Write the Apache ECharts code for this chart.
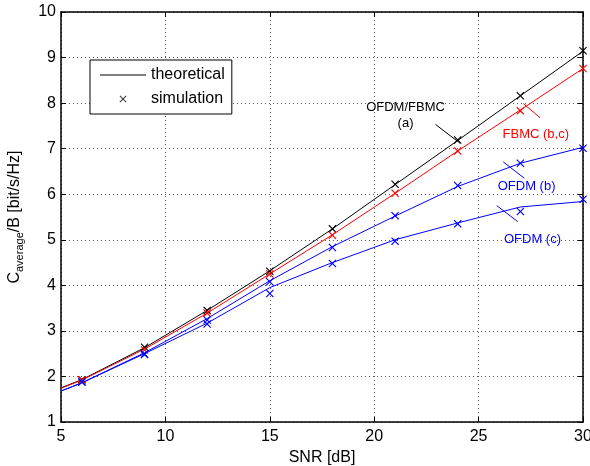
<!DOCTYPE html>
<html>
<head>
<meta charset="utf-8">
<title>Average capacity vs SNR</title>
<script src="https://cdn.jsdelivr.net/npm/echarts@6/dist/echarts.min.js"></script>
<style>
  html, body { margin: 0; padding: 0; background: #fff; }
  #chart { width: 590px; height: 466px; }
</style>
</head>
<body>
<div id="chart"></div>
<script>
  // SNR sample points [dB]
  var snrTheory = [5, 6, 9, 12, 15, 18, 21, 24, 27, 30];
  var snrSim = [6, 9, 12, 15, 18, 21, 24, 27, 30];

  // theoretical curves, C_average/B [bit/s/Hz]
  var theoryOfdmFbmcA = [1.75, 1.93, 2.63, 3.45, 4.32, 5.24, 6.21, 7.18, 8.16, 9.14];
  var theoryFbmcBC    = [1.74, 1.92, 2.60, 3.39, 4.25, 5.11, 6.02, 6.95, 7.85, 8.76];
  var theoryOfdmB     = [1.68, 1.86, 2.52, 3.27, 4.10, 4.85, 5.52, 6.17, 6.68, 7.03];
  var theoryOfdmC     = [1.68, 1.86, 2.50, 3.17, 3.95, 4.50, 5.00, 5.37, 5.72, 5.84];

  // simulation points
  var simOfdmFbmcA = [1.93, 2.64, 3.45, 4.31, 5.24, 6.22, 7.19, 8.16, 9.15];
  var simFbmcBC    = [1.92, 2.58, 3.39, 4.25, 5.10, 6.02, 6.95, 7.83, 8.76];
  var simOfdmB     = [1.88, 2.49, 3.24, 4.08, 4.83, 5.53, 6.19, 6.68, 7.01];
  var simOfdmC     = [1.88, 2.48, 3.15, 3.82, 4.48, 4.97, 5.35, 5.62, 5.89];

  var FONT = "'Liberation Sans', Arial, Helvetica, sans-serif";
  var CROSS = 'path://M0,1L1,0L5,4L9,0L10,1L6,5L10,9L9,10L5,6L1,10L0,9L4,5Z';

  function zip(xs, ys) {
    var out = [];
    for (var i = 0; i < xs.length; i++) out.push([xs[i], ys[i]]);
    return out;
  }

  // curve labels with their little pointer lines (data units)
  var curveNotes = [
    { text: 'OFDM/FBMC\n(a)', color: '#000000', at: [21.50, 7.72], from: [22.94, 7.53], to: [24.11, 7.12] },
    { text: 'FBMC (b,c)', color: '#ff0000', at: [27.74, 7.32], from: [27.14, 7.99], to: [27.94, 7.68] },
    { text: 'OFDM (b)', color: '#0000ff', at: [27.30, 6.17], from: [26.18, 6.71], to: [27.19, 6.35] },
    { text: 'OFDM (c)', color: '#0000ff', at: [27.58, 5.01], from: [25.87, 5.75], to: [26.87, 5.40] }
  ];

  function theoryLine(name, ys, color, note) {
    return {
      name: name,
      type: 'line',
      data: zip(snrTheory, ys),
      symbol: 'none',
      animation: false,
      silent: true,
      z: 3,
      lineStyle: { color: color, width: 1 },
      itemStyle: { color: color },
      markLine: {
        silent: true,
        animation: false,
        symbol: ['none', 'none'],
        label: { show: false },
        lineStyle: { color: color, width: 1, type: 'solid' },
        data: [[{ coord: note.from }, { coord: note.to }]]
      },
      markPoint: {
        silent: true,
        animation: false,
        symbol: 'circle',
        symbolSize: 1,
        itemStyle: { color: 'transparent' },
        label: {
          show: true,
          position: 'inside',
          formatter: note.text,
          color: note.color,
          fontFamily: FONT,
          fontSize: 13,
          lineHeight: 16
        },
        data: [{ coord: note.at }]
      }
    };
  }

  function simPoints(name, ys, color) {
    return {
      name: name,
      type: 'scatter',
      data: zip(snrSim, ys),
      symbol: CROSS,
      symbolSize: 8,
      animation: false,
      silent: true,
      z: 4,
      itemStyle: { color: color, opacity: 1 }
    };
  }

  var boxAxisLine = { show: true, onZero: false, lineStyle: { color: '#000', width: 1.5 } };
  var boxTick = { show: true, inside: true, length: 5, lineStyle: { color: '#000', width: 1 } };
  var gridDots = { show: true, lineStyle: { color: '#555', width: 1, type: [1, 3] } };

  var chart = echarts.init(document.getElementById('chart'));
  chart.setOption({
    backgroundColor: '#fff',
    animation: false,
    grid: { left: 61, right: 7, top: 12, bottom: 44, containLabel: false, outerBoundsMode: 'none' },
    legend: {
      orient: 'vertical',
      left: 90,
      top: 60,
      padding: [7, 7, 7, 10],
      itemWidth: 46,
      itemHeight: 14,
      itemGap: 8,
      borderColor: '#000',
      borderWidth: 1,
      backgroundColor: '#fff',
      selectedMode: false,
      textStyle: { color: '#000', fontSize: 16, fontFamily: FONT },
      data: [
        { name: 'theoretical', icon: 'path://M0,0M46,14M0,6.5L46,6.5L46,7.5L0,7.5Z' },
        { name: 'simulation', icon: 'path://M-5,-5M15,15M0,1L1,0L5,4L9,0L10,1L6,5L10,9L9,10L5,6L1,10L0,9L4,5Z' }
      ]
    },
    xAxis: [{
      type: 'value', min: 5, max: 30, interval: 5, position: 'bottom',
      name: 'SNR [dB]', nameLocation: 'middle', nameGap: 23,
      nameTextStyle: { color: '#000', fontSize: 16, fontFamily: FONT },
      axisLine: boxAxisLine, axisTick: boxTick, splitLine: gridDots,
      axisLabel: { color: '#000', fontSize: 16, fontFamily: FONT, margin: 7 }
    }, {
      type: 'value', min: 5, max: 30, interval: 5, position: 'top',
      axisLine: boxAxisLine, axisTick: boxTick,
      axisLabel: { show: false }, splitLine: { show: false }
    }],
    yAxis: [{
      type: 'value', min: 1, max: 10, interval: 1, position: 'left',
      name: '{c|C}{s|average}{c|/B [bit/s/Hz]}', nameLocation: 'middle', nameGap: 36,
      nameTextStyle: {
        color: '#000', fontFamily: FONT,
        rich: {
          c: { fontSize: 16, fontFamily: FONT, color: '#000', lineHeight: 20, verticalAlign: 'middle' },
          s: { fontSize: 11, fontFamily: FONT, color: '#000', lineHeight: 20, verticalAlign: 'bottom' }
        }
      },
      axisLine: boxAxisLine, axisTick: boxTick, splitLine: gridDots,
      axisLabel: { color: '#000', fontSize: 16, fontFamily: FONT, margin: 5 }
    }, {
      type: 'value', min: 1, max: 10, interval: 1, position: 'right',
      axisLine: boxAxisLine, axisTick: boxTick,
      axisLabel: { show: false }, splitLine: { show: false }
    }],
    series: [
      theoryLine('OFDM/FBMC (a)', theoryOfdmFbmcA, '#000000', curveNotes[0]),
      theoryLine('FBMC (b,c)', theoryFbmcBC, '#ff0000', curveNotes[1]),
      theoryLine('OFDM (b)', theoryOfdmB, '#0000ff', curveNotes[2]),
      theoryLine('OFDM (c)', theoryOfdmC, '#0000ff', curveNotes[3]),
      simPoints('sim OFDM/FBMC (a)', simOfdmFbmcA, '#000000'),
      simPoints('sim FBMC (b,c)', simFbmcBC, '#ff0000'),
      simPoints('sim OFDM (b)', simOfdmB, '#0000ff'),
      simPoints('sim OFDM (c)', simOfdmC, '#0000ff'),
      // legend-only entries
      { name: 'theoretical', type: 'line', data: [], symbol: 'none', itemStyle: { color: '#000' }, lineStyle: { color: '#000', width: 1 } },
      { name: 'simulation', type: 'scatter', data: [], symbol: CROSS, itemStyle: { color: '#000' } }
    ]
  });
</script>
</body>
</html>
